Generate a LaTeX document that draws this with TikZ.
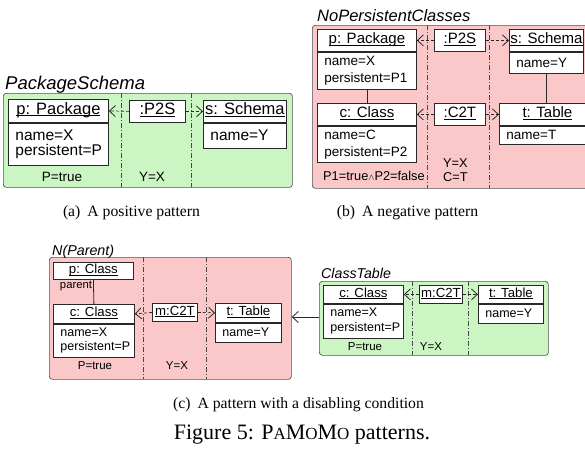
\documentclass[tikz,border=0pt]{standalone}
\usepackage{fontspec}
\setmainfont{Liberation Sans}
\newfontfamily\capfont{Liberation Serif}
\usetikzlibrary{arrows.meta}
\definecolor{gfill}{RGB}{204,245,196}
\definecolor{rfill}{RGB}{250,200,200}
\definecolor{linec}{RGB}{40,40,40}
\newcommand{\fs}[2]{\fontsize{#1}{#2}\selectfont}
\newcommand{\uln}[1]{\rule[-0.3em]{0pt}{1.0em}\underline{\smash{#1}}}
\begin{document}
\begin{tikzpicture}[x=1pt,y=-1pt,
 region/.style={draw=linec!80, line width=0.7pt, rounded corners=3pt, inner sep=0pt, anchor=north west},
 cbox/.style={draw=linec, fill=white, line width=0.8pt, inner sep=0pt, anchor=north west},
 abox/.style={cbox, align=left, inner xsep=7pt},
 sepl/.style={draw=linec!85, line width=0.6pt, dash pattern=on 5pt off 2pt on 1pt off 2pt},
 link/.style={draw=linec, line width=0.7pt, dash pattern=on 3pt off 2pt, -{Straight Barb[length=6pt,width=11pt,line width=0.8pt]}},
 assoc/.style={draw=linec, line width=0.8pt},
 ttl/.style={anchor=base west, inner sep=0pt},
 lbl/.style={inner sep=0pt},
 capt/.style={inner sep=0pt, anchor=base, font=\capfont\fs{15.7}{18}}
]
\useasboundingbox (0,0) rectangle (585,450);
\clip (0,0) rectangle (585,450);
\fill[white] (0,0) rectangle (585,450);

% ---------------- (a) PackageSchema
\node[region, fill=gfill, minimum width=289pt, minimum height=94pt] (regA) at (3,93) {};
\node[ttl, font=\itshape\fs{18.5}{21}] (ttlA) at (5,89) {PackageSchema};
\draw[sepl] (121,93) -- (121,187);
\draw[sepl] (191,93) -- (191,187);
\node[cbox, minimum width=100pt, minimum height=23pt, font=\fs{16.5}{18}] (pkgA) at (8,99) {\uln{p: Package}};
\node[abox, text width=86pt, minimum height=42pt, font=\fs{15.5}{15}] (pkgAa) at (pkgA.south west) {name=X\\persistent=P};
\node[cbox, minimum width=56pt, minimum height=22pt, font=\fs{16.5}{18}] (p2sA) at (129,100) {\uln{:P2S}};
\node[cbox, minimum width=83pt, minimum height=22pt, font=\fs{16.5}{18}] (schA) at (203,100) {\uln{s: Schema}};
\node[abox, text width=69pt, minimum height=25pt, font=\fs{15.5}{15}] (schAa) at (schA.south west) {name=Y};
\draw[link] (p2sA.west) -- (pkgA.east);
\draw[link] (p2sA.east) -- (schA.west);
\node[lbl, font=\fs{13.5}{14}] (ptA) at (62,177) {P=true};
\node[lbl, font=\fs{13.5}{14}] (yxA) at (152,177) {Y=X};

% ---------------- (b) NoPersistentClasses
\node[region, fill=rfill, minimum width=290pt, minimum height=163pt] (regB) at (312,25) {};
\node[ttl, font=\itshape\fs{16.5}{19}] (ttlB) at (317,21) {NoPersistentClasses};
\draw[sepl] (427,25) -- (427,188);
\draw[sepl] (489,25) -- (489,188);
\node[cbox, minimum width=99pt, minimum height=22pt, font=\fs{15}{17}] (pkgB) at (317,29) {\uln{p: Package}};
\node[abox, text width=85pt, minimum height=37pt, font=\fs{13.5}{17}] (pkgBa) at (pkgB.south west) {name=X\\persistent=P1};
\node[cbox, minimum width=51pt, minimum height=22pt, font=\fs{15}{17}] (p2sB) at (434,29) {\uln{:P2S}};
\node[cbox, minimum width=74pt, minimum height=22pt, font=\fs{15}{17}] (schB) at (509,29) {\uln{s: Schema}};
\node[abox, text width=60pt, minimum height=21pt, font=\fs{13.5}{17}] (schBa) at (schB.south west) {name=Y};
\node[cbox, minimum width=99pt, minimum height=22pt, font=\fs{15}{17}] (clsB) at (317,103) {\uln{c: Class}};
\node[abox, text width=85pt, minimum height=36pt, font=\fs{13.5}{17}] (clsBa) at (clsB.south west) {name=C\\persistent=P2};
\node[cbox, minimum width=51pt, minimum height=22pt, font=\fs{15}{17}] (c2tB) at (434,103) {\uln{:C2T}};
\node[cbox, minimum width=96pt, minimum height=22pt, font=\fs{15}{17}] (tblB) at (499,103) {\uln{t: Table}};
\node[abox, text width=82pt, minimum height=18pt, font=\fs{13.5}{17}] (tblBa) at (tblB.south west) {name=T};
\draw[assoc] (pkgBa.south) -- (clsB.north);
\draw[assoc] (schBa.south) -- (schBa.south |- tblB.north);
\draw[link] (p2sB.west) -- (pkgB.east);
\draw[link] (p2sB.east) -- (schB.west);
\draw[link] (c2tB.west) -- (clsB.east);
\draw[link] (c2tB.east) -- (tblB.west);
\node[lbl, anchor=west, font=\fs{12.8}{14}] (condB) at (323,176) {P1=true{\fs{9}{9}$\wedge$}P2=false};
\node[lbl, anchor=west, font=\fs{12.8}{14}] (yxB) at (443,163) {Y=X};
\node[lbl, anchor=west, font=\fs{12.8}{14}] (ctB) at (443,177) {C=T};

% ---------------- (c) N(Parent)
\node[region, fill=rfill, minimum width=242pt, minimum height=122pt] (regC) at (49,257) {};
\node[ttl, font=\itshape\fs{14.3}{17}] (ttlC) at (52,255) {N(Parent)};
\draw[sepl] (143,257) -- (143,379);
\draw[sepl] (206,257) -- (206,379);
\node[cbox, minimum width=80pt, minimum height=17pt, font=\fs{13.2}{15}] (pC) at (53,262) {\uln{p: Class}};
\node[cbox, minimum width=81pt, minimum height=19pt, font=\fs{13.2}{15}] (cC) at (53,304) {\uln{c: Class}};
\node[abox, text width=67pt, minimum height=33pt, font=\fs{12.5}{14.5}] (cCa) at (cC.south west) {name=X\\persistent=P};
\node[cbox, minimum width=45pt, minimum height=18pt, font=\fs{13.2}{15}] (m2C) at (152,303) {\uln{m:C2T}};
\node[cbox, minimum width=66pt, minimum height=19pt, font=\fs{13.2}{15}] (tC) at (215,303) {\uln{t: Table}};
\node[abox, text width=52pt, minimum height=19pt, font=\fs{12.5}{14.5}] (tCa) at (tC.south west) {name=Y};
\draw[assoc] (pC.south) -- (cC.north);
\node[lbl, font=\fs{11.3}{13}] (parC) at (76,286) {parent};
\draw[link] (m2C.west) -- (cC.east);
\draw[link] (m2C.east) -- (tC.west);
\node[lbl, font=\fs{11.5}{13}] (ptC) at (95,366) {P=true};
\node[lbl, font=\fs{11.5}{13}] (yxC) at (177,366) {Y=X};

% ---------------- ClassTable
\node[region, fill=gfill, minimum width=229pt, minimum height=74pt] (regD) at (319,281) {};
\node[ttl, font=\itshape\fs{14.2}{17}] (ttlD) at (321,278) {ClassTable};
\draw[sepl] (412,281) -- (412,355);
\draw[sepl] (468,281) -- (468,355);
\node[cbox, minimum width=80pt, minimum height=18pt, font=\fs{13.2}{15}] (cD) at (323,285) {\uln{c: Class}};
\node[abox, text width=66pt, minimum height=34pt, font=\fs{12.5}{14.5}] (cDa) at (cD.south west) {name=X\\persistent=P};
\node[cbox, minimum width=43pt, minimum height=18pt, font=\fs{13.2}{15}] (m2D) at (419,285) {\uln{m:C2T}};
\node[cbox, minimum width=65pt, minimum height=18pt, font=\fs{13.2}{15}] (tD) at (478,285) {\uln{t: Table}};
\node[abox, text width=51pt, minimum height=19pt, font=\fs{12.5}{14.5}] (tDa) at (tD.south west) {name=Y};
\draw[link] (m2D.west) -- (cD.east);
\draw[link] (m2D.east) -- (tD.west);
\node[lbl, font=\fs{11.5}{13}] (ptD) at (365,347) {P=true};
\node[lbl, font=\fs{11.5}{13}] (yxD) at (431,347) {Y=X};

% disabling link
\draw[assoc, line width=0.7pt, -{Straight Barb[length=6pt,width=11pt,line width=0.8pt]}] (regD.west |- 0,317) -- (regC.east |- 0,317);

% ---------------- captions
\node[capt] (capA) at (131.5,216) {(a)\hspace{0.45em}A positive pattern};
\node[capt] (capB) at (407.5,216) {(b)\hspace{0.45em}A negative pattern};
\node[capt] (capC) at (298.5,408) {(c)\hspace{0.45em}A pattern with a disabling condition};
\node[capt, font=\capfont\fs{22}{24}] (fig) at (302,439) {Figure 5: P{\fs{17}{20}A}M{\fs{17}{20}O}M{\fs{17}{20}O} patterns.};
\end{tikzpicture}
\end{document}
